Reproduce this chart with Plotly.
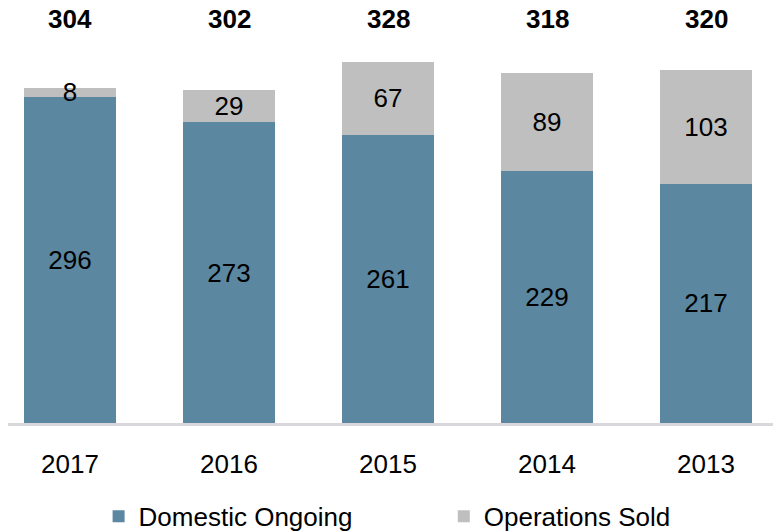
import plotly.graph_objects as go

# values
years = ["2017", "2016", "2015", "2014", "2013"]
domestic_ongoing = [296, 273, 261, 229, 217]
operations_sold = [8, 29, 67, 89, 103]
totals = [d + s for d, s in zip(domestic_ongoing, operations_sold)]

FONT = "Liberation Sans, Arial, sans-serif"
FS = 26
BLUE = "#5B87A1"
GREY = "#BFBFBF"

fig = go.Figure()

fig.add_trace(go.Bar(
    x=years, y=domestic_ongoing, name="Domestic Ongoing", legend="legend",
    marker=dict(color=BLUE, line=dict(width=0)),
    text=domestic_ongoing, textposition="inside", insidetextanchor="middle",
    textangle=0, constraintext="none",
    textfont=dict(color="black", size=FS, family=FONT),
))
fig.add_trace(go.Bar(
    x=years, y=operations_sold, name="Operations Sold", legend="legend2",
    marker=dict(color=GREY, line=dict(width=0)),
    text=operations_sold, textposition="inside", insidetextanchor="middle",
    textangle=0, constraintext="none",
    textfont=dict(color="black", size=FS, family=FONT),
))

# bold totals on one line above the bars
for i, tot in enumerate(totals):
    fig.add_annotation(
        x=i, y=1, xref="x", yref="paper", yanchor="middle", yshift=-11,
        text=f"<b>{tot}</b>", showarrow=False,
        font=dict(size=FS, color="black", family=FONT),
    )

leg = dict(
    orientation="h", xanchor="left", yanchor="middle", y=-0.2249,
    bgcolor="rgba(0,0,0,0)", borderwidth=0,
    font=dict(size=FS, family=FONT), itemclick=False,
)
fig.update_layout(
    width=781, height=532,
    margin=dict(l=0, r=0, t=0, b=114),
    barmode="stack", bargap=0.421,
    paper_bgcolor="white", plot_bgcolor="white",
    font=dict(family=FONT, size=FS, color="black"),
    showlegend=True,
    legend=dict(leg, x=0.116),
    legend2=dict(leg, x=0.558),
)
fig.update_xaxes(
    type="category", range=[-0.390, 4.522],
    showline=True, linecolor="#D9D7DC", linewidth=3,
    ticks="", ticklabelstandoff=16, showgrid=False,
    tickfont=dict(size=FS, family=FONT),
)
fig.update_yaxes(
    range=[0, 376.6], visible=False, showgrid=False, zeroline=False,
)

fig.write_html("out.html")
